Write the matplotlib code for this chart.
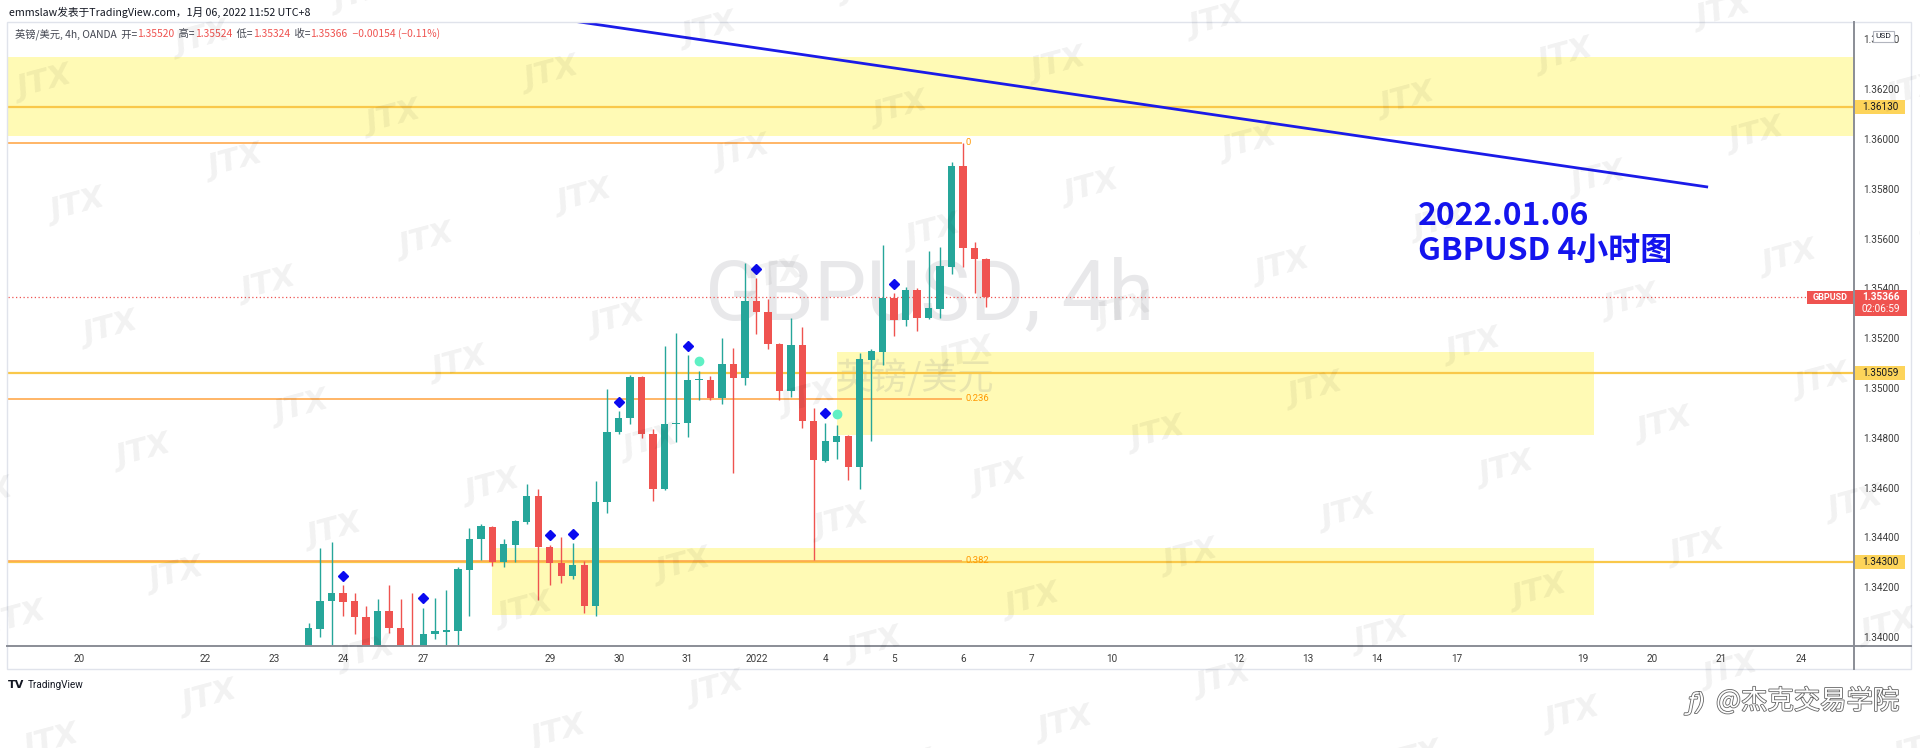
import matplotlib
matplotlib.use('Agg')
import numpy as np
import matplotlib.pyplot as plt
import matplotlib.patheffects as pe
from matplotlib.patches import Rectangle
from matplotlib.lines import Line2D

plt.rcParams['font.family'] = ['Noto Sans CJK SC', 'DejaVu Sans']

W, H = 1920, 748

#######################################################################################################################
# GBPUSD 4h candles (OANDA), oldest first
opens = [1.33908, 1.34032, 1.34145, 1.34177, 1.34145, 1.34080, 1.33928, 1.34104, 1.34036, 1.33940,
         1.33900, 1.34012, 1.34020, 1.34024, 1.34269, 1.34394, 1.34442, 1.34301, 1.34369, 1.34462,
         1.34566, 1.34361, 1.34297, 1.34245, 1.34289, 1.34124, 1.34542, 1.34823, 1.34880, 1.35044,
         1.34815, 1.34594, 1.34855, 1.34859, 1.35032, 1.35034, 1.34960, 1.35096, 1.35040, 1.35349,
         1.35305, 1.35177, 1.34988, 1.35173, 1.34867, 1.34707, 1.34783, 1.34807, 1.34683, 1.35112,
         1.35145, 1.35361, 1.35273, 1.35394, 1.35281, 1.35317, 1.35486, 1.35892, 1.35562, 1.35520]
highs = [1.34056, 1.34357, 1.34382, 1.34209, 1.34177, 1.34124, 1.34153, 1.34209, 1.34153, 1.34177,
         1.34116, 1.34157, 1.34189, 1.34281, 1.34438, 1.34454, 1.34446, 1.34394, 1.34470, 1.34614,
         1.34594, 1.34369, 1.34402, 1.34378, 1.34305, 1.34627, 1.34996, 1.34908, 1.35052, 1.35048,
         1.34835, 1.35169, 1.35221, 1.35133, 1.35068, 1.35048, 1.35201, 1.35161, 1.35502, 1.35442,
         1.35357, 1.35180, 1.35281, 1.35245, 1.34920, 1.34859, 1.34851, 1.34810, 1.35141, 1.35157,
         1.35574, 1.35382, 1.35406, 1.35402, 1.35550, 1.35566, 1.35908, 1.35984, 1.35586, 1.35524]
lows = [1.33876, 1.34000, 1.33928, 1.34084, 1.34012, 1.33900, 1.33892, 1.34016, 1.33908, 1.33876,
        1.33867, 1.33992, 1.33940, 1.33928, 1.34084, 1.34309, 1.34285, 1.34281, 1.34301, 1.34454,
        1.34149, 1.34209, 1.34217, 1.34233, 1.34096, 1.34084, 1.34498, 1.34815, 1.34855, 1.34799,
        1.34546, 1.34590, 1.34783, 1.34803, 1.34952, 1.34952, 1.34936, 1.34659, 1.35012, 1.35217,
        1.35157, 1.34952, 1.34964, 1.34839, 1.34309, 1.34703, 1.34715, 1.34631, 1.34594, 1.34787,
        1.35092, 1.35209, 1.35249, 1.35229, 1.35277, 1.35281, 1.35458, 1.35486, 1.35382, 1.35324]
closes = [1.34036, 1.34145, 1.34177, 1.34141, 1.34080, 1.33928, 1.34104, 1.34036, 1.33940, 1.33900,
          1.34012, 1.34024, 1.34028, 1.34273, 1.34394, 1.34446, 1.34301, 1.34373, 1.34466, 1.34566,
          1.34361, 1.34297, 1.34245, 1.34289, 1.34124, 1.34542, 1.34823, 1.34880, 1.35044, 1.34815,
          1.34594, 1.34855, 1.34859, 1.35032, 1.35034, 1.34960, 1.35096, 1.35040, 1.35349, 1.35305,
          1.35177, 1.34988, 1.35173, 1.34867, 1.34711, 1.34787, 1.34807, 1.34683, 1.35116, 1.35149,
          1.35361, 1.35273, 1.35394, 1.35281, 1.35321, 1.35490, 1.35892, 1.35562, 1.35520, 1.35366]

# indicator marks above some bars
diamond_bars = [3, 10, 21, 23, 27, 33, 39, 45, 51]
diamond_prices = [1.34245, 1.34157, 1.34410, 1.34414, 1.34944, 1.35169, 1.35478, 1.34900, 1.35418]
dot_bars = [34, 46]
dot_prices = [1.35108, 1.34896]

# date labels on the time axis (bar index where each day starts)
day_ticks = [-20, -9, -3, 3, 10, 21, 27, 33, 39, 45, 51, 57, 63, 70, 81, 87, 93, 100, 111, 117, 123, 130]
day_labels = ['20', '22', '23', '24', '27', '29', '30', '31', '2022', '4', '5', '6',
              '7', '10', '12', '13', '14', '17', '19', '20', '21', '24']

# drawings
level_lines = [1.36130, 1.35059, 1.34300]
fib_names = ['0', '0.236', '0.382']
fib_prices = [1.35984, 1.34956, 1.34306]
fib_end = 56.9
zone_x0 = [-30, 46.0, 16.0]
zone_x1 = [140, 112.0, 112.0]
zone_lo = [1.36012, 1.34811, 1.34088]
zone_hi = [1.36329, 1.35145, 1.34357]
trend_x = [23.0, 121.9]
trend_y = [1.36474, 1.35807]
last_price = 1.35366
#######################################################################################################################

teal = '#26a69a'
red = '#ef5350'
axis_col = '#8a8d96'
text_col = '#131722'


def fx(px):
    return px / W


def fy(py):
    return 1 - py / H


fig = plt.figure(figsize=(W / 100, H / 100), dpi=100)
fig.patch.set_facecolor('white')
ax = fig.add_axes([fx(8), fy(646), (1854 - 8) / W, (646 - 22) / H])
ax.set_facecolor('white')
ax.set_xlim(-26.19, 134.61)
ax.set_ylim(1.339639, 1.364699)

# zones
for x0, x1, lo, hi in zip(zone_x0, zone_x1, zone_lo, zone_hi):
    ax.add_patch(Rectangle((x0, lo), x1 - x0, hi - lo, facecolor='#fffab5', edgecolor='none', zorder=1))

# symbol watermark
ax.text(fx(930), fy(296), 'GBPUSD, 4h', transform=fig.transFigure, ha='center', va='center',
        fontsize=60, family='Roboto', color='#787b86', alpha=0.17, zorder=1.5)
ax.text(fx(915), fy(378), '英镑/美元', transform=fig.transFigure, ha='center', va='center',
        fontsize=26, color='#787b86', alpha=0.17, zorder=1.5)

# horizontal levels
for p in level_lines:
    ax.axhline(p, color='#f9c84a', lw=1.6, zorder=2)
ax.hlines(fib_prices, -30, fib_end, color='#ffa94d', lw=1.2, zorder=2.1)
for name, p in zip(fib_names, fib_prices):
    ax.text(fib_end + 0.35, p, name, color='#ff9800', fontsize=6.8, va='center', ha='left',
            family='Roboto', zorder=2.2)
ax.axhline(last_price, color=red, lw=0.9, ls=(0, (1, 2)), zorder=2)

# trend line
ax.plot(trend_x, trend_y, color='#1b1be8', lw=2, zorder=2.5, solid_capstyle='butt')

# candles
for i in range(len(opens)):
    o, h, l, c = opens[i], highs[i], lows[i], closes[i]
    col = teal if c >= o else red
    ax.vlines(i, l, h, color=col, lw=1, zorder=3)
    ax.bar(i, max(abs(c - o), 0.00005), 0.64, bottom=min(o, c), color=col, lw=0, zorder=4)

ax.plot(diamond_bars, diamond_prices, 'D', color='#0a0af0', markersize=5, lw=0, zorder=5)
ax.plot(dot_bars, dot_prices, 'o', color='#5ff0c4', markersize=6, lw=0, zorder=5)

# axes
for s in ax.spines.values():
    s.set_visible(False)
price_ticks = [1.340, 1.342, 1.344, 1.346, 1.348, 1.350, 1.352, 1.354, 1.356, 1.358, 1.360, 1.362, 1.364]
ax.yaxis.tick_right()
ax.set_yticks(price_ticks)
ax.set_yticklabels([f'{t:.5f}' for t in price_ticks])
ax.set_xticks(day_ticks)
ax.set_xticklabels(day_labels)
ax.tick_params(axis='y', length=0, pad=6.5, labelsize=7.2, labelcolor='#3c3c3c')
ax.tick_params(axis='x', length=0, pad=5.5, labelsize=7.2, labelcolor='#3c3c3c')
for lbl in ax.get_xticklabels() + ax.get_yticklabels():
    lbl.set_fontfamily('Roboto')

# frame and separators
fig.add_artist(Rectangle((fx(7), fy(669)), (1911 - 7) / W, (669 - 22) / H, transform=fig.transFigure,
                         fill=False, edgecolor='#e0e3eb', lw=1, zorder=6))
fig.add_artist(Line2D([fx(1854), fx(1854)], [fy(22), fy(669)], color=axis_col, lw=1.4, zorder=7))
fig.add_artist(Line2D([fx(7), fx(1911)], [fy(646), fy(646)], color=axis_col, lw=1.4, zorder=7))


def price_px(p):
    return H - ax.transData.transform((0, p))[1]


def tag(p, text, fc, tc):
    y = price_px(p)
    fig.add_artist(Rectangle((fx(1855), fy(y + 7)), 50 / W, 14 / H, transform=fig.transFigure,
                             facecolor=fc, edgecolor='none', zorder=20))
    fig.text(fx(1880), fy(y), text, ha='center', va='center', fontsize=7.2, color=tc,
             family='Roboto', zorder=21)


for p in level_lines:
    tag(p, f'{p:.5f}', '#fdd45a', text_col)

# last price tag
yl = price_px(last_price)
fig.add_artist(Rectangle((fx(1855), fy(yl + 19)), 52 / W, 26 / H, transform=fig.transFigure,
                         facecolor=red, edgecolor='none', zorder=20))
fig.text(fx(1881), fy(yl), f'{last_price:.5f}', ha='center', va='center', fontsize=7.2, color='white',
         family='Roboto', fontweight='bold', zorder=21)
fig.text(fx(1881), fy(yl + 12), '02:06:59', ha='center', va='center', fontsize=7.2, color='white',
         family='Roboto', zorder=21)
fig.add_artist(Rectangle((fx(1807), fy(yl + 7)), 46 / W, 13 / H, transform=fig.transFigure,
                         facecolor=red, edgecolor='none', zorder=20))
fig.text(fx(1830), fy(yl + 0.5), 'GBPUSD', ha='center', va='center', fontsize=6.5, color='white',
         family='Roboto', fontweight='bold', zorder=21)

# USD box
fig.add_artist(Rectangle((fx(1873), fy(42)), 21 / W, 11 / H, transform=fig.transFigure,
                         facecolor='white', edgecolor='#b2b5be', lw=0.8, zorder=20))
fig.text(fx(1883.5), fy(36.5), 'USD', ha='center', va='center', fontsize=6, color=text_col,
         family='Roboto', zorder=21)

# header
fig.text(fx(9), fy(12), 'emmslaw发表于TradingView.com，1月 06, 2022 11:52 UTC+8', fontsize=7.7,
         color=text_col, va='center', ha='left')
pieces = [('英镑/美元, 4h, OANDA  开=', '#434651'), ('1.35520', red), ('  高=', '#434651'), ('1.35524', red),
          ('  低=', '#434651'), ('1.35324', red), ('  收=', '#434651'), ('1.35366', red),
          ('  −0.00154 (−0.11%)', red)]
renderer = fig.canvas.get_renderer()
xpos = fx(15)
for s, c in pieces:
    t = fig.text(xpos, fy(34), s, fontsize=7.4, color=c, va='center', ha='left', zorder=8)
    xpos += t.get_window_extent(renderer).width / W

# annotation text
fig.text(fx(1418), fy(216), '2022.01.06', fontsize=23, color='#1414ee', va='center', ha='left',
         fontweight='bold', zorder=8)
fig.text(fx(1418), fy(251), 'GBPUSD 4小时图', fontsize=23, color='#1414ee', va='center', ha='left',
         fontweight='bold', zorder=8)

# footer
fig.text(fx(8), fy(685), 'TV', fontsize=8, fontweight='heavy', color=text_col, va='center', ha='left',
         family='DejaVu Sans')
fig.text(fx(28), fy(685), 'TradingView', fontsize=7.2, color=text_col, va='center', ha='left', family='Roboto')
fig.text(fx(1688), fy(703), 'ƒ)', fontsize=17, color='white', va='center', ha='left', family='DejaVu Sans',
         fontstyle='italic', path_effects=[pe.withStroke(linewidth=1.2, foreground='#666666')], zorder=25)
fig.text(fx(1716), fy(701), '@杰克交易学院', fontsize=19, color='white', va='center', ha='left',
         path_effects=[pe.withStroke(linewidth=1.2, foreground='#666666')], zorder=25)

# JTX watermark grid
for i in range(-15, 16):
    for j in range(-10, 10):
        x = 492 + i * 158 + j * 33
        y = 487 - i * 44 + j * 123
        if -40 < x < W + 40 and -40 < y < H + 40:
            fig.text(fx(x), fy(y), 'JTX', rotation=15, fontsize=22, fontweight='bold', fontstyle='italic',
                     color='black', alpha=0.055, ha='center', va='center', family='DejaVu Sans', zorder=30)

fig.savefig('out.png', dpi=100, facecolor='white')
